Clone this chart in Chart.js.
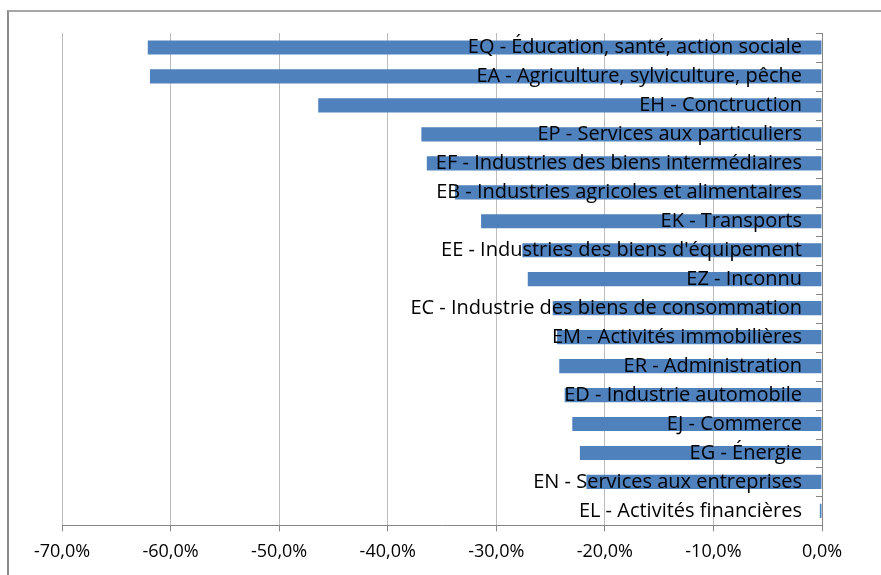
<!DOCTYPE html>
<html lang="fr">
<head>
<meta charset="utf-8">
<script src="https://cdn.jsdelivr.net/npm/chart.js@4"></script>
<style>
  body { margin: 0; background: #fff; overflow: hidden; }
  #cadre { position: absolute; left: 7px; top: 10px; width: 900px; height: 600px; border-left: 2px solid #8a8a8a; border-top: 2px solid #a6a6a6; }
  #zone { position: absolute; left: 0; top: 0; width: 881px; height: 575px; }
</style>
</head>
<body>
<div id="cadre"></div>
<div id="zone"><canvas id="graphique"></canvas></div>
<script>
// Secteurs et variations (en %)
const secteurs = [
  "EQ - Éducation, santé, action sociale",
  "EA - Agriculture, sylviculture, pêche",
  "EH - Conctruction",
  "EP - Services aux particuliers",
  "EF - Industries des biens intermédiaires",
  "EB - Industries agricoles et alimentaires",
  "EK - Transports",
  "EE - Industries des biens d'équipement",
  "EZ - Inconnu",
  "EC - Industrie des biens de consommation",
  "EM - Activités immobilières",
  "ER - Administration",
  "ED - Industrie automobile",
  "EJ - Commerce",
  "EG - Énergie",
  "EN - Services aux entreprises",
  "EL - Activités financières"
];
const variations = [-62.1, -61.9, -46.4, -36.9, -36.4, -33.8, -31.4, -27.6, -27.1, -24.8, -24.4, -24.2, -23.7, -23.0, -22.3, -21.7, -0.2];
const graduations = [-70, -60, -50, -40, -30, -20, -10, 0];

const police = "'Open Sans', sans-serif";

// petites marques à gauche de l'axe zéro, entre les catégories
const marquesCategories = {
  id: 'marquesCategories',
  afterDraw(chart) {
    const ctx = chart.ctx;
    const y = chart.scales.y;
    const xDroite = chart.chartArea.right;
    ctx.save();
    ctx.strokeStyle = '#868686';
    ctx.lineWidth = 1;
    for (let i = 0; i <= secteurs.length; i++) {
      const py = Math.round(y.getPixelForValue(i - 0.5)) + 0.5;
      ctx.beginPath();
      ctx.moveTo(xDroite - 6, py);
      ctx.lineTo(xDroite, py);
      ctx.stroke();
    }
    ctx.restore();
  }
};

new Chart(document.getElementById('graphique'), {
  type: 'bar',
  data: {
    labels: secteurs,
    datasets: [{
      data: variations,
      backgroundColor: '#4F81BD',
      barPercentage: 0.98,
      categoryPercentage: 0.5
    }]
  },
  options: {
    indexAxis: 'y',
    responsive: true,
    maintainAspectRatio: false,
    animation: false,
    layout: { padding: { left: 62, right: 59, top: 33, bottom: 2 } },
    plugins: {
      legend: { display: false },
      tooltip: { enabled: false }
    },
    scales: {
      x: {
        min: -70,
        max: 0,
        afterBuildTicks: (axe) => { axe.ticks = graduations.map(v => ({ value: v })); },
        grid: { color: '#bcbcbc', lineWidth: 1, tickLength: 6, tickColor: '#868686' },
        border: { color: '#868686', width: 1 },
        ticks: {
          padding: 10,
          color: '#000',
          font: { family: police, size: 18 },
          callback: (v) => v.toFixed(1).replace('.', ',') + '%'
        }
      },
      y: {
        position: 'right',
        grid: { display: false, drawTicks: false },
        border: { color: '#868686', width: 1 },
        ticks: {
          mirror: true,
          z: 1,
          padding: -20,
          color: '#000',
          font: { family: police, size: 20 }
        }
      }
    }
  },
  plugins: [marquesCategories]
});
</script>
</body>
</html>
